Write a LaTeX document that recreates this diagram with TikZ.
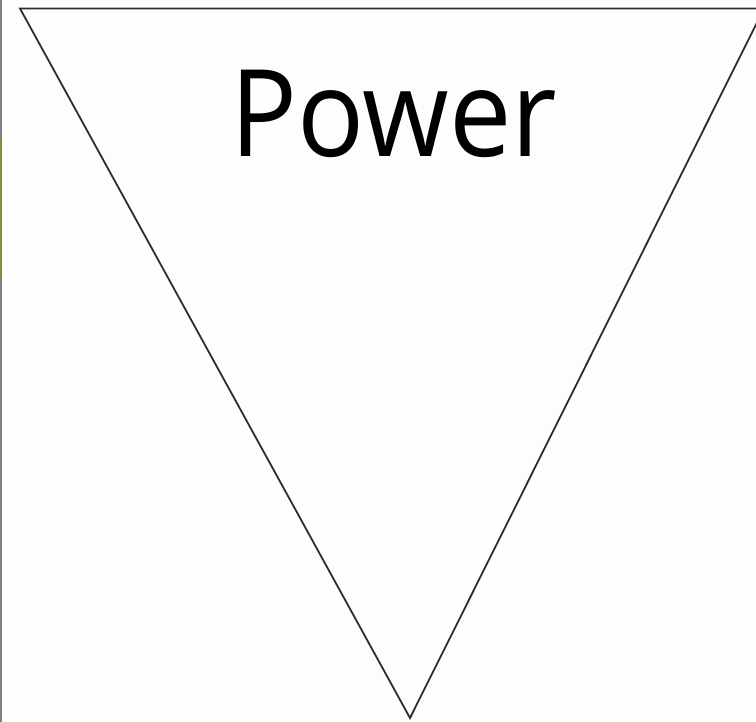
\documentclass[tikz,border=0pt]{standalone}
\usepackage{fontspec}
\setmainfont{Open Sans}
\definecolor{edge}{HTML}{2E2E2E}
\definecolor{olive}{HTML}{8A8A3A}
\definecolor{paper}{HTML}{FDFDFD}
\tikzset{tri/.style={draw=edge,line width=1.8pt,line join=miter}}
\begin{document}
\begin{tikzpicture}[x=1pt,y=-1pt]
\fill[paper] (0,0) rectangle (756,722);
\useasboundingbox (0,0) rectangle (756,722);
\draw[gray,line width=1.6pt] (1,0) -- (1,722);
\draw[olive,line width=2.4pt] (1.2,140) -- (1.2,278);
\draw[tri] (764,8.5) -- (20,8.5) -- (410,718) -- cycle;
\node[font=\fontsize{121}{130}\selectfont,anchor=base,inner sep=0pt,xscale=0.92] (power) at (394,157) {Power};
\end{tikzpicture}
\end{document}
